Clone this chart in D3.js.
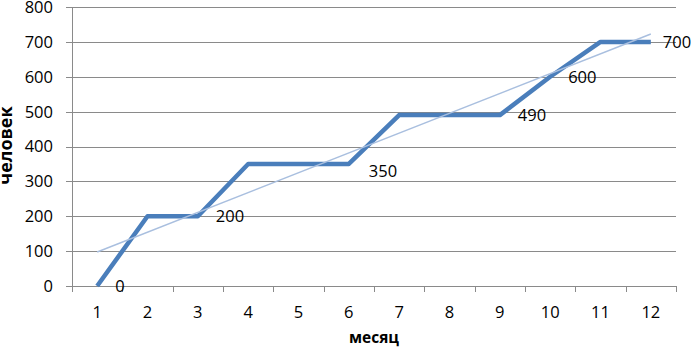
<!DOCTYPE html>
<html><head><meta charset="utf-8">
<script src="https://cdn.jsdelivr.net/npm/d3@7"></script>
<style>body{margin:0;background:#fff;overflow:hidden}svg{display:block}</style>
</head><body><svg id="c" width="692" height="354"></svg>
<script>
const months = ["1","2","3","4","5","6","7","8","9","10","11","12"];
const people = [0,200,200,350,350,350,490,490,490,600,700,700];
const labelShown = [true,false,true,false,false,true,false,false,true,true,false,true];
const yTicks = [0,100,200,300,400,500,600,700,800];
const xTitle = "месяц";
const yTitle = "человек";

(function () {
const svg = d3.select("#c");
const pl = 72, pr = 676, pt = 7, pb = 286;
const x = d3.scaleBand().domain(months).range([pl, pr]);
const y = d3.scaleLinear().domain([0, 800]).range([pb, pt]);
const cx = d => x(d) + x.bandwidth() / 2;
const font = "'Open Sans', 'Liberation Sans', sans-serif";
const grid = "#8a8a8a";

// gridlines
svg.append("g").selectAll("line").data(yTicks).join("line")
  .attr("x1", pl - 6).attr("x2", pr)
  .attr("y1", d => Math.round(y(d)) + 0.5).attr("y2", d => Math.round(y(d)) + 0.5)
  .attr("stroke", grid).attr("stroke-width", 1);

// y axis line
svg.append("line").attr("x1", pl + 0.5).attr("x2", pl + 0.5)
  .attr("y1", pt).attr("y2", pb + 0.5).attr("stroke", grid);

// x ticks at band boundaries
const bounds = months.map(m => x(m)).concat([pr]);
svg.append("g").selectAll("line").data(bounds).join("line")
  .attr("x1", d => Math.round(d) + 0.5).attr("x2", d => Math.round(d) + 0.5)
  .attr("y1", pb).attr("y2", pb + 6).attr("stroke", grid);

// y tick labels
svg.append("g").selectAll("text").data(yTicks).join("text")
  .attr("x", 53).attr("y", d => y(d)).attr("dy", "0.36em")
  .attr("text-anchor", "end").attr("font-family", font).attr("font-size", 16.5)
  .attr("fill", "#000").text(d => d);

// x tick labels
svg.append("g").selectAll("text").data(months).join("text")
  .attr("x", d => cx(d)).attr("y", 318)
  .attr("text-anchor", "middle").attr("font-family", font).attr("font-size", 16.5)
  .attr("fill", "#000").text(d => d);

// main line
const line = d3.line().x((d, i) => cx(months[i])).y(d => y(d));
svg.append("path").datum(people).attr("d", line)
  .attr("fill", "none").attr("stroke", "#4a7ebb").attr("stroke-width", 4.5)
  .attr("stroke-linejoin", "round");

// linear trend line (least squares from the data)
const xs = months.map((m, i) => i + 1);
const mx = d3.mean(xs), my = d3.mean(people);
const slope = d3.sum(xs, (v, i) => (v - mx) * (people[i] - my)) / d3.sum(xs, v => (v - mx) ** 2);
const icpt = my - slope * mx;
svg.append("line")
  .attr("x1", cx(months[0])).attr("y1", y(icpt + slope * xs[0]))
  .attr("x2", cx(months[11])).attr("y2", y(icpt + slope * xs[11]))
  .attr("stroke", "#a9bfdf").attr("stroke-width", 1.5);

// data labels
svg.append("g").selectAll("text").data(people.map((v, i) => ({v, i})).filter(d => labelShown[d.i])).join("text")
  .attr("x", d => cx(months[d.i]) + (d.i === 11 ? 12 : (d.i === 5 ? 20 : 18)))
  .attr("y", d => y(d.v) + (d.i === 5 ? 7 : 0)).attr("dy", "0.36em")
  .attr("font-family", font).attr("font-size", 16.5).attr("fill", "#000")
  .text(d => d.v);

// axis titles
svg.append("text").attr("x", (pl + pr) / 2).attr("y", 343)
  .attr("text-anchor", "middle").attr("font-family", font).attr("font-weight", "bold")
  .attr("font-size", 15.5).attr("fill", "#000").text(xTitle);
svg.append("text").attr("transform", `translate(12,${(pt + pb) / 2 - 1}) rotate(-90)`)
  .attr("text-anchor", "middle").attr("font-family", font).attr("font-weight", "bold")
  .attr("font-size", 18).attr("fill", "#000").text(yTitle);
})();
</script></body></html>
